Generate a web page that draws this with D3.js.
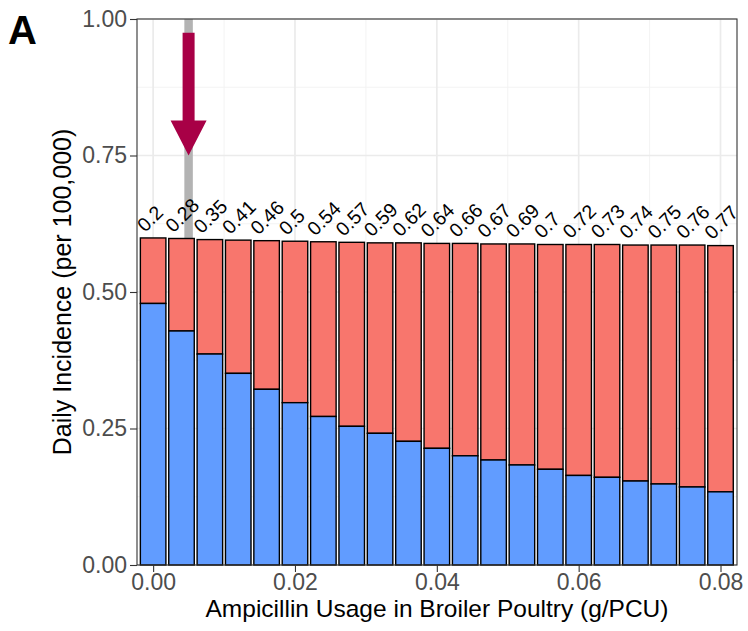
<!DOCTYPE html>
<html><head><meta charset="utf-8">
<script src="https://cdn.jsdelivr.net/npm/d3@7"></script>
<style>body{margin:0;background:#fff}svg{display:block}text{font-family:"Liberation Sans",Arial,sans-serif}</style>
</head><body><svg id="c" width="748" height="631"></svg>
<script>
const usage = [0,0.004,0.008,0.012,0.016,0.02,0.024,0.028,0.032,0.036,0.04,0.044,0.048,0.052,0.056,0.06,0.064,0.068,0.072,0.076,0.08];
const blueValues = [0.479,0.4286,0.3864,0.351,0.3218,0.2973,0.272,0.254,0.2412,0.2265,0.2137,0.200,0.1923,0.1832,0.1753,0.164,0.1606,0.1538,0.1484,0.1429,0.134];
const totalValues = [0.599,0.598,0.596,0.595,0.594,0.593,0.592,0.591,0.590,0.590,0.589,0.589,0.588,0.588,0.587,0.587,0.587,0.586,0.586,0.586,0.585];
const barLabels = ["0.2","0.28","0.35","0.41","0.46","0.5","0.54","0.57","0.59","0.62","0.64","0.66","0.67","0.69","0.7","0.72","0.73","0.74","0.75","0.76","0.77"];
const xTicks = [0,0.02,0.04,0.06,0.08];
const xMinor = [0.01,0.03,0.05,0.07];
const yTicks = [0,0.25,0.5,0.75,1];
const yMinor = [0.125,0.375,0.625,0.875];
const markUsage = 0.005;

const svg = d3.select("#c");
const L=137, R=737, T=19, B=565;
const x = d3.scaleLinear().domain([-0.002275,0.082325]).range([L,R]);
const y = d3.scaleLinear().domain([0,1]).range([B,T]);
const step = x(0.004)-x(0);
const bw = step*0.9;

// grid
const g = svg.append("g");
g.selectAll(".xm").data(xMinor).join("line").attr("x1",d=>x(d)).attr("x2",d=>x(d)).attr("y1",T).attr("y2",B).attr("stroke","#F2F2F2").attr("stroke-width",0.9);
g.selectAll(".ym").data(yMinor).join("line").attr("x1",L).attr("x2",R).attr("y1",d=>y(d)).attr("y2",d=>y(d)).attr("stroke","#F2F2F2").attr("stroke-width",0.9);
g.selectAll(".xM").data(xTicks).join("line").attr("x1",d=>x(d)).attr("x2",d=>x(d)).attr("y1",T).attr("y2",B).attr("stroke","#EBEBEB").attr("stroke-width",1.7);
g.selectAll(".yM").data(yTicks).join("line").attr("x1",L).attr("x2",R).attr("y1",d=>y(d)).attr("y2",d=>y(d)).attr("stroke","#EBEBEB").attr("stroke-width",1.7);

// vertical reference line
svg.append("line").attr("x1",x(markUsage)).attr("x2",x(markUsage)).attr("y1",T).attr("y2",B).attr("stroke","#B3B3B3").attr("stroke-width",8.5);

// bars
const bars = svg.append("g");
usage.forEach((u,i)=>{
  bars.append("rect").attr("x",x(u)-bw/2).attr("width",bw).attr("y",y(totalValues[i])).attr("height",y(blueValues[i])-y(totalValues[i]))
    .attr("fill","#F8766D").attr("stroke","#000").attr("stroke-width",1.4);
  bars.append("rect").attr("x",x(u)-bw/2).attr("width",bw).attr("y",y(blueValues[i])).attr("height",y(0)-y(blueValues[i]))
    .attr("fill","#619CFF").attr("stroke","#000").attr("stroke-width",1.4);
});

// bar labels
svg.append("g").selectAll("text").data(usage).join("text")
  .attr("transform",(d,i)=>`translate(${x(d)-8},${y(totalValues[i])-5}) rotate(-45)`)
  .attr("font-size",19.5).attr("fill","#000").text((d,i)=>barLabels[i]);

// arrow
const ax = x(markUsage), ay0 = y(0.975), ay1 = y(0.75);
const sw=6, hw=18, hl=35;
svg.append("path").attr("d",`M${ax-sw},${ay0}L${ax+sw},${ay0}L${ax+sw},${ay1-hl}L${ax+hw},${ay1-hl}L${ax},${ay1}L${ax-hw},${ay1-hl}L${ax-sw},${ay1-hl}Z`).attr("fill","#A80046");

// panel border
svg.append("rect").attr("x",L).attr("y",T).attr("width",R-L).attr("height",B-T).attr("fill","none").attr("stroke","#333").attr("stroke-width",1.1);

// axes
const xa = svg.append("g").attr("transform",`translate(0,${B})`).call(d3.axisBottom(x).tickValues(xTicks).tickFormat(d3.format(".2f")).tickSize(7).tickPadding(2));
const ya = svg.append("g").attr("transform",`translate(${L},0)`).call(d3.axisLeft(y).tickValues(yTicks).tickFormat(d3.format(".2f")).tickSize(7).tickPadding(3));
[xa,ya].forEach(a=>{a.select(".domain").remove();a.selectAll("line").attr("stroke","#333").attr("stroke-width",1.1);
  a.selectAll("text").attr("font-size",23).attr("fill","#4D4D4D").attr("font-family",'"Liberation Sans",Arial,sans-serif');});

svg.append("text").attr("x",(L+R)/2).attr("y",617).attr("text-anchor","middle").attr("font-size",24.5).attr("fill","#000").text("Ampicillin Usage in Broiler Poultry (g/PCU)");
svg.append("text").attr("transform",`translate(71,${(T+B)/2}) rotate(-90)`).attr("text-anchor","middle").attr("font-size",25).attr("fill","#000").text("Daily Incidence (per 100,000)");
svg.append("text").attr("x",8).attr("y",44).attr("font-size",40).attr("font-weight","bold").attr("fill","#000").text("A");
</script></body></html>
